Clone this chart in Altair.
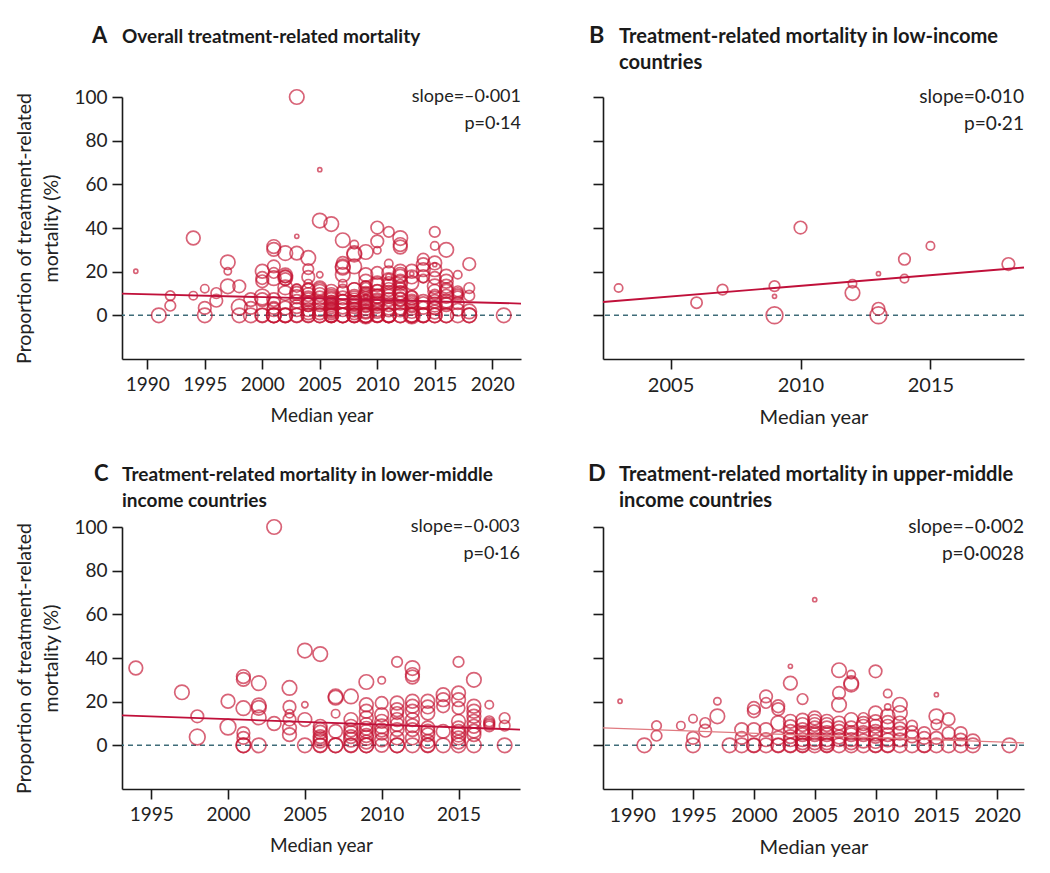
import altair as alt
import pandas as pd

# ---------------- data ----------------
# Panel B: low-income countries
B_year = [2003, 2006, 2007, 2009, 2009, 2009, 2010, 2012, 2012, 2013, 2013, 2013, 2014, 2014, 2015, 2018]
B_value = [12.5, 5.8, 11.8, 13.4, 8.7, 0, 40.2, 14.5, 10.2, 19.1, 3.0, 0, 25.7, 16.8, 31.8, 23.5]
B_n = [50, 90, 80, 80, 12, 200, 113, 50, 150, 12, 113, 200, 95, 50, 50, 113]

# Panel C: lower-middle income countries
C_year = [1994, 1997, 1998, 1998, 2000, 2000,
          2001, 2001, 2001, 2001, 2001, 2001, 2001,
          2002, 2002, 2002, 2002, 2002,
          2003, 2003,
          2004, 2004, 2004, 2004, 2004, 2004,
          2005, 2005, 2005, 2005,
          2006, 2006, 2006, 2006, 2006, 2006, 2006, 2006, 2006,
          2007, 2007, 2007, 2007, 2007, 2007,
          2008, 2008, 2008, 2008, 2008, 2008, 2008, 2008, 2008,
          2009, 2009, 2009, 2009, 2009, 2009, 2009, 2009, 2009, 2009, 2009, 2009,
          2010, 2010, 2010, 2010, 2010, 2010, 2010, 2010, 2010,
          2011, 2011, 2011, 2011, 2011, 2011, 2011, 2011, 2011, 2011,
          2012, 2012, 2012, 2012, 2012, 2012, 2012, 2012, 2012, 2012, 2012,
          2013, 2013, 2013, 2013, 2013, 2013, 2013, 2013, 2013,
          2014, 2014, 2014, 2014, 2014,
          2015, 2015, 2015, 2015, 2015, 2015, 2015, 2015, 2015, 2015, 2015,
          2016, 2016, 2016, 2016, 2016, 2016, 2016, 2016, 2016,
          2017, 2017, 2017, 2017, 2017,
          2018, 2018, 2018]
C_value = [35.4, 24.3, 13.3, 3.8, 20.2, 8.4,
           31.5, 30.2, 17.0, 5.6, 3.4, 0, 0,
           28.5, 18.3, 17.2, 12.8, 0,
           100, 10.0,
           26.3, 17.6, 14.5, 11.8, 8.0, 4.9,
           43.4, 18.6, 11.8, 0,
           41.8, 8.7, 7.3, 6.0, 4.0, 3.0, 2.0, 0, 0,
           22.4, 21.8, 14.5, 6.4, 0, 0,
           22.4, 11.8, 8.7, 7.0, 5.6, 4.0, 2.6, 0, 0,
           29.0, 18.6, 15.6, 12.5, 9.5, 7.8, 6.4, 4.5, 3.4, 1.5, 0, 0,
           29.8, 19.4, 14.0, 11.0, 8.7, 7.0, 5.6, 2.5, 0,
           38.2, 19.4, 16.3, 14.8, 11.8, 9.5, 7.2, 3.4, 0, 0,
           35.4, 32.4, 31.3, 20.2, 17.9, 15.6, 11.8, 9.0, 7.2, 3.4, 0,
           20.2, 17.6, 14.8, 8.0, 6.5, 4.9, 1.8, 0, 0,
           23.2, 20.9, 17.9, 6.4, 0,
           38.2, 24.0, 20.9, 17.1, 11.0, 8.0, 6.4, 4.9, 3.4, 1.5, 0,
           30.0, 17.9, 15.6, 13.3, 11.0, 8.7, 6.5, 4.9, 0,
           18.6, 11.0, 10.2, 9.5, 8.7,
           12.5, 9.0, 0]
C_n = [133, 150, 113, 175, 133, 175,
       133, 133, 150, 113, 113, 150, 150,
       150, 150, 150, 150, 150,
       150, 133,
       150, 113, 50, 113, 133, 133,
       150, 28, 133, 150,
       150, 133, 133, 133, 133, 133, 133, 150, 133,
       150, 150, 50, 133, 150, 150,
       150, 133, 133, 133, 150, 133, 150, 150, 133,
       150, 133, 133, 133, 133, 133, 133, 133, 150, 133, 150, 150,
       40, 113, 133, 133, 150, 133, 133, 133, 133,
       80, 133, 133, 113, 133, 133, 133, 133, 150, 150,
       150, 133, 133, 133, 133, 133, 133, 133, 133, 133, 150,
       133, 133, 133, 133, 133, 133, 133, 150, 133,
       133, 133, 113, 133, 150,
       80, 133, 133, 113, 133, 133, 133, 150, 133, 133, 150,
       150, 133, 133, 133, 133, 133, 133, 133, 150,
       50, 80, 80, 80, 80,
       80, 80, 150]

# Panel D: upper-middle income countries
D_year = [1989, 1991, 1992, 1992, 1994, 1995, 1995, 1995, 1996, 1996, 1997, 1997, 1998,
          1999, 1999, 1999,
          2000, 2000, 2000, 2000, 2000,
          2001, 2001, 2001, 2001, 2001,
          2002, 2002, 2002, 2002, 2002, 2002,
          2003, 2003, 2003, 2003, 2003, 2003, 2003, 2003, 2003,
          2004, 2004, 2004, 2004, 2004, 2004, 2004, 2004, 2004, 2004,
          2005, 2005, 2005, 2005, 2005, 2005, 2005, 2005, 2005, 2005,
          2006, 2006, 2006, 2006, 2006, 2006, 2006, 2006, 2006,
          2007, 2007, 2007, 2007, 2007, 2007, 2007, 2007, 2007,
          2008, 2008, 2008, 2008, 2008, 2008, 2008, 2008, 2008, 2008,
          2009, 2009, 2009, 2009, 2009, 2009, 2009,
          2010, 2010, 2010, 2010, 2010, 2010, 2010, 2010, 2010, 2010,
          2011, 2011, 2011, 2011, 2011, 2011, 2011, 2011, 2011,
          2012, 2012, 2012, 2012, 2012, 2012, 2012,
          2013, 2013, 2013, 2013,
          2014, 2014, 2014, 2014,
          2015, 2015, 2015, 2015, 2015,
          2016, 2016, 2016,
          2017, 2017, 2017,
          2018, 2018,
          2021]
D_value = [20.2, 0, 9.0, 4.4, 9.0, 12.2, 3.4, 0, 10.2, 6.7, 20.2, 13.3, 0,
           7.2, 3.4, 0,
           17.1, 15.6, 7.2, 0, 0,
           22.4, 19.4, 7.2, 2.6, 0,
           17.9, 16.6, 10.2, 3.4, 0, 0,
           36.2, 28.5, 11.0, 8.5, 6.4, 4.0, 2.6, 0, 0,
           21.2, 11.5, 9.5, 7.2, 5.8, 4.9, 2.6, 1.2, 0, 0,
           66.7, 12.5, 11.0, 9.5, 8.0, 5.8, 4.9, 2.6, 1.2, 0,
           11.0, 9.5, 8.0, 5.8, 4.9, 2.6, 1.2, 0, 0,
           34.4, 24.0, 18.6, 10.2, 8.0, 6.4, 3.8, 2.6, 0,
           32.4, 28.5, 27.8, 11.8, 8.0, 5.8, 4.9, 2.6, 1.2, 0,
           12.5, 10.0, 8.7, 5.8, 4.9, 2.0, 0,
           33.9, 14.8, 10.8, 8.7, 6.4, 5.2, 4.1, 1.8, 0, 0,
           23.7, 17.6, 13.3, 10.5, 8.7, 4.9, 2.5, 0, 0,
           18.6, 14.8, 10.2, 7.5, 5.6, 2.5, 0,
           9.0, 6.0, 4.1, 0,
           5.6, 3.4, 0, 0,
           23.2, 13.3, 9.5, 3.4, 0,
           12.0, 5.6, 0,
           5.6, 2.6, 0,
           1.8, 0,
           0]
D_n = [12, 150, 65, 80, 50, 50, 113, 150, 80, 113, 38, 150, 150,
       133, 113, 150,
       113, 113, 133, 150, 133,
       113, 80, 133, 133, 150,
       113, 113, 150, 133, 150, 133,
       12, 133, 133, 133, 133, 133, 133, 150, 133,
       80, 133, 133, 133, 133, 133, 133, 133, 150, 133,
       12, 133, 133, 133, 133, 133, 133, 133, 133, 150,
       133, 133, 133, 133, 133, 133, 133, 150, 133,
       150, 113, 150, 133, 133, 133, 133, 133, 150,
       50, 150, 150, 133, 133, 133, 133, 133, 133, 150,
       80, 133, 133, 133, 133, 133, 150,
       113, 133, 133, 133, 133, 133, 133, 133, 150, 133,
       50, 28, 150, 133, 133, 133, 133, 150, 133,
       150, 150, 133, 133, 133, 133, 150,
       80, 113, 113, 150,
       113, 113, 150, 133,
       12, 150, 80, 113, 150,
       113, 113, 150,
       113, 113, 150,
       150, 150,
       150]

# fitted regression lines (end points)
A_trend_x, A_trend_y = [1987.8, 2022.5], [9.9, 5.4]
B_trend_x, B_trend_y = [2002.4, 2018.6], [6.1, 21.9]
C_trend_x, C_trend_y = [1993.1, 2019.0], [13.7, 7.2]
D_trend_x, D_trend_y = [1987.6, 2022.2], [8.0, 1.1]

y_ticks = [0, 20, 40, 60, 80, 100]

# ---------------- styling ----------------
FONT = "Lato"
RED = "#c4102f"
TREND = "#c0103a"
TREND_LIGHT = "#e07a80"
ZERO = "#3f6c79"
H = 262


def frame(year, value, n):
    return pd.DataFrame({"year": year, "value": value, "n": n})


def label(text, x, y, size, weight, align="left", baseline="alphabetic", color="#1a1a1a"):
    return alt.Chart(pd.DataFrame({"t": [text]})).mark_text(
        align=align, baseline=baseline, font=FONT, fontSize=size, fontWeight=weight,
        lineBreak="\n", lineHeight=26, color=color).encode(
        text="t:N", x=alt.value(x), y=alt.value(y))


def panel(df, domain, ticks, width, letter, title_lines, letter_x, title_x, title_y,
          slope, p, tx, ty, tcolor, left):
    k = 1.0 if left else 1.06
    x_axis = alt.Axis(values=ticks, format="d", title="Median year", labelPadding=6,
                      titlePadding=12, tickSize=10, labelFontSize=round(19 * k),
                      titleFontSize=round(19 * k, 1))
    if left:
        y_axis = alt.Axis(values=y_ticks, tickSize=10, labelPadding=5,
                          title=["Proportion of treatment-related", "mortality (%)"],
                          titlePadding=12, titleLineHeight=27, labelFontSize=19,
                          titleFontSize=19.5)
    else:
        y_axis = alt.Axis(values=y_ticks, tickSize=10, labels=False, title=None)
    xs = alt.Scale(domain=domain, nice=False, zero=False)
    ys = alt.Scale(domain=[-20, 100], nice=False)

    pts = alt.Chart(df).mark_point(shape="circle", filled=False, strokeWidth=1.7,
                                   opacity=0.65, color=RED).encode(
        x=alt.X("year:Q", scale=xs, axis=x_axis),
        y=alt.Y("value:Q", scale=ys, axis=y_axis),
        size=alt.Size("n:Q", scale=alt.Scale(domain=[0, 200], range=[0, 280]), legend=None),
    )
    zero = alt.Chart(pd.DataFrame({"value": [0]})).mark_rule(
        color=ZERO, strokeDash=[5, 4], strokeWidth=1.5).encode(y=alt.Y("value:Q", scale=ys))
    trend = alt.Chart(pd.DataFrame({"year": tx, "value": ty})).mark_line(
        color=tcolor, strokeWidth=1.8 if tcolor == TREND else 1.3).encode(
        x=alt.X("year:Q", scale=xs), y=alt.Y("value:Q", scale=ys))
    s1 = label(slope, width, 0, round(18 * k, 1), "normal", align="right", baseline="middle", color="#222")
    s2 = label(p, width, 27, round(18 * k, 1), "normal", align="right", baseline="middle", color="#222")
    let = label(letter, letter_x, title_y, round(22 * k, 1), "bold")
    ttl = label("\n".join(title_lines), title_x, title_y, round(19 * k, 1), "bold")
    return alt.layer(zero, pts, trend, s1, s2, let, ttl).properties(width=width, height=H)


A_df = pd.concat([frame(B_year, B_value, B_n), frame(C_year, C_value, C_n),
                  frame(D_year, D_value, D_n)], ignore_index=True)

pA = panel(A_df, [1987.8, 2022.5], [1990, 1995, 2000, 2005, 2010, 2015, 2020], 399,
           "A", ["Overall treatment-related mortality"], -30, 0, -54,
           "slope=–0·001", "p=0·14", A_trend_x, A_trend_y, TREND, True)
pB = panel(frame(B_year, B_value, B_n), [2002.4, 2018.6], [2005, 2010, 2015], 421,
           "B", ["Treatment-related mortality in low-income", "countries"], -14, 16, -54,
           "slope=0·010", "p=0·21", B_trend_x, B_trend_y, TREND, False)
pC = panel(frame(C_year, C_value, C_n), [1993.1, 2019.0], [1995, 2000, 2005, 2010, 2015], 398,
           "C", ["Treatment-related mortality in lower-middle", "income countries"], -28, 0, -46,
           "slope=–0·003", "p=0·16", C_trend_x, C_trend_y, TREND, True)
pD = panel(frame(D_year, D_value, D_n), [1987.6, 2022.2], [1990, 1995, 2000, 2005, 2010, 2015, 2020], 421,
           "D", ["Treatment-related mortality in upper-middle", "income countries"], -15, 16, -46,
           "slope=–0·002", "p=0·0028", D_trend_x, D_trend_y, TREND_LIGHT, False)

chart = alt.vconcat(
    alt.hconcat(pA, pB, spacing=64),
    alt.hconcat(pC, pD, spacing=64),
    spacing=34,
).properties(padding={"left": 6, "top": 16, "right": 5, "bottom": 5}).configure_view(
    stroke=None
).configure_axis(
    grid=False, domainColor="#1a1a1a", domainWidth=1.6, tickColor="#1a1a1a", tickWidth=1.6,
    labelFont=FONT, labelFontSize=19, labelColor="#222", titleFont=FONT, titleFontSize=19,
    titleFontWeight="normal", titleColor="#222"
)

chart.save("out.html", embed_options={"renderer": "svg", "actions": False})
